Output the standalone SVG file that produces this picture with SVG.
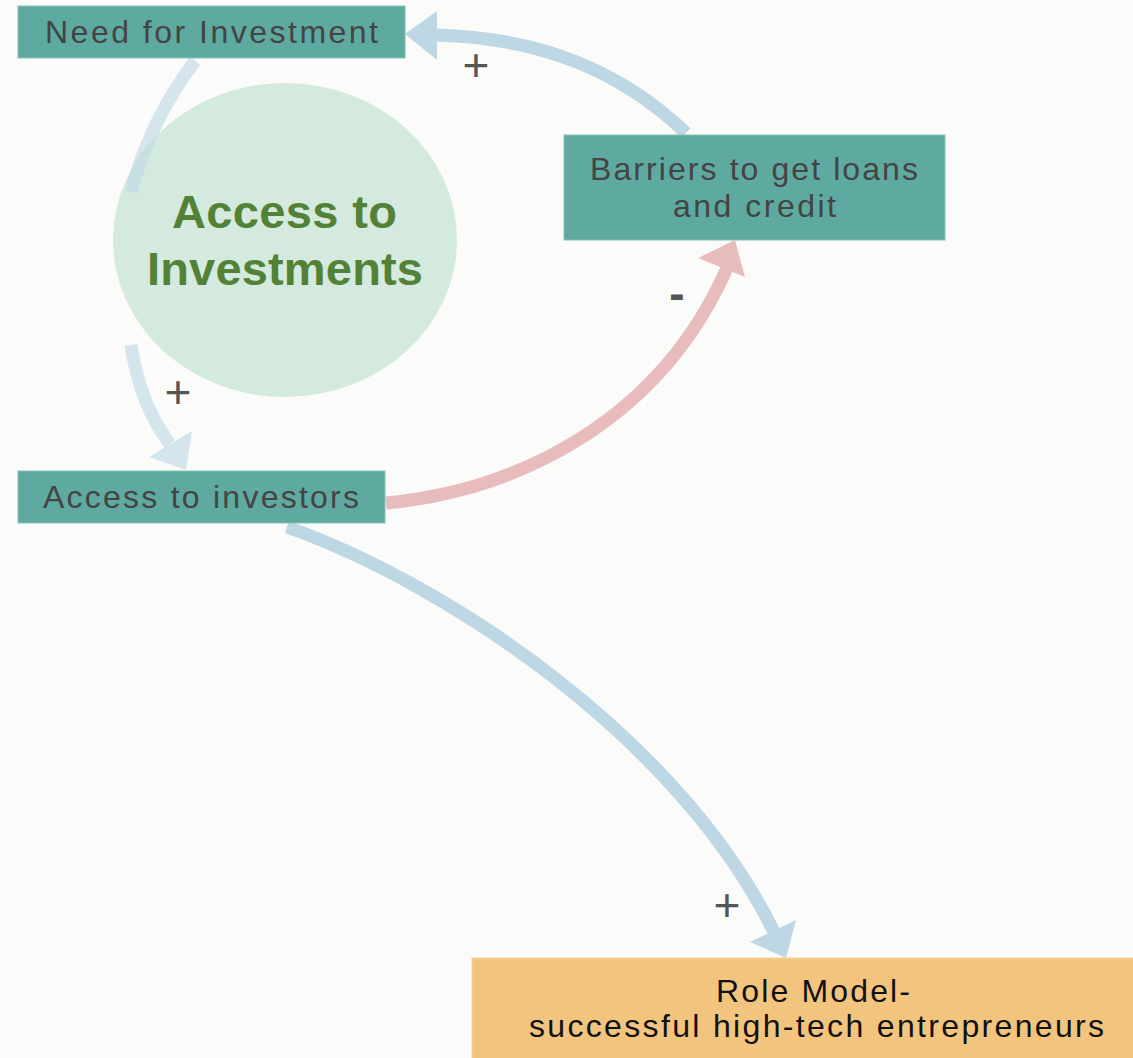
<svg xmlns="http://www.w3.org/2000/svg" width="1133" height="1058" viewBox="0 0 1133 1058">
  <style>
    .box { fill: #5eaaa0; stroke: #86c2b8; stroke-width: 1; }
    .role { fill: #f3c47e; stroke: #f6d4a0; stroke-width: 1; }
    .lbl { font-family: "Liberation Sans", Arial, sans-serif; font-size: 32px; fill: #444444; }
    .rlbl { font-family: "Liberation Sans", Arial, sans-serif; font-size: 32px; fill: #111111; }
    .title { font-family: "Liberation Sans", Arial, sans-serif; font-size: 47px; font-weight: bold; fill: #538135; }
    .blue { fill: none; stroke: #bdd7e4; stroke-width: 13; }
    .pale { fill: none; stroke: #bdd7e4; stroke-opacity: 0.6; stroke-width: 13; }
    .pink { fill: none; stroke: #e8bcbd; stroke-width: 13; }
    .head-blue { fill: #bdd7e4; }
    .head-pale { fill: #bdd7e4; fill-opacity: 0.6; }
    .head-pink { fill: #e8bcbd; }
    .sign { font-family: "Liberation Sans", Arial, sans-serif; font-size: 46px; fill: #555555; text-anchor: middle; }
  </style>
  <rect x="0" y="0" width="1133" height="1058" fill="#fbfbf9"/>

  <g id="loop-circle">
    <ellipse cx="285" cy="240" rx="172" ry="157" fill="#d4eadf"/>
    <text class="title" x="172" y="228" textLength="225">Access to</text>
    <text class="title" x="147" y="285" textLength="276">Investments</text>
  </g>

  <g id="connectors">
    <path class="pale" d="M195,61 Q150,120 131,192"/>
    <path class="pale" d="M131,345 Q140,405 170,444"/>
    <polygon class="head-pale" points="186,470 149,457 192,431"/>
    <path class="blue" d="M686,133 C620,70 540,38 437,35"/>
    <polygon class="head-blue" points="405,34 437,11 437,60"/>
    <path class="pink" d="M386,503 C520,490 660,420 727,268"/>
    <polygon class="head-pink" points="735,240 698,258 745,277"/>
    <path class="blue" d="M287,527 C450,585 680,740 774,932"/>
    <polygon class="head-blue" points="786,958 750,942 796,920"/>
    <text class="sign" x="476" y="81">+</text>
    <text class="sign" x="178" y="408">+</text>
    <text class="sign" x="727" y="921">+</text>
    <text class="sign" x="677" y="309" font-weight="bold">-</text>
  </g>

  <g id="need">
    <rect class="box" x="18" y="6" width="387" height="52"/>
    <text class="lbl" x="45" y="43" textLength="333">Need for Investment</text>
  </g>

  <g id="barriers">
    <rect class="box" x="564" y="135" width="381" height="105"/>
    <text class="lbl" x="590" y="180" textLength="328">Barriers to get loans</text>
    <text class="lbl" x="673" y="217" textLength="163">and credit</text>
  </g>

  <g id="investors">
    <rect class="box" x="18" y="471" width="367" height="52"/>
    <text class="lbl" x="43" y="508" textLength="316">Access to investors</text>
  </g>

  <g id="role-model">
    <rect class="role" x="472" y="958" width="670" height="110"/>
    <text class="rlbl" x="716" y="1002" textLength="194">Role Model-</text>
    <text class="rlbl" x="529" y="1037" textLength="575">successful high-tech entrepreneurs</text>
  </g>
</svg>
